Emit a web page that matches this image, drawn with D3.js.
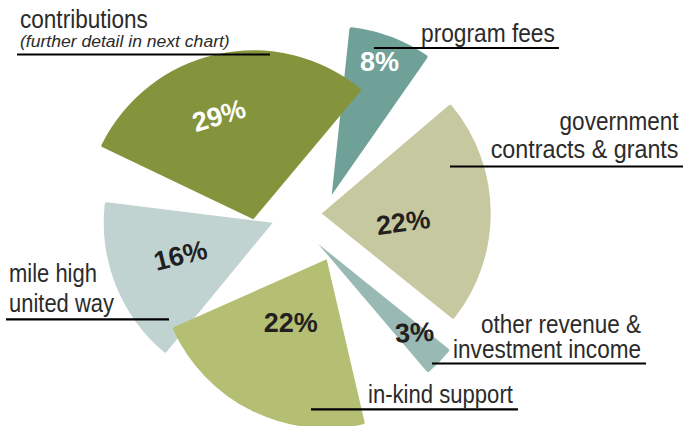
<!DOCTYPE html>
<html>
<head>
<meta charset="utf-8">
<script src="https://cdn.jsdelivr.net/npm/d3@7"></script>
<style>
  html, body { margin: 0; padding: 0; background: #ffffff; }
  svg { display: block; }
  .cat { font-family: "Liberation Sans", Arial, sans-serif; font-size: 25px; fill: #2b2b2b; }
  .sub { font-family: "Liberation Sans", Arial, sans-serif; font-size: 17px; font-style: italic; fill: #2b2b2b; }
  .pct { font-family: "Liberation Sans", Arial, sans-serif; font-size: 27px; font-weight: bold; }
</style>
</head>
<body>
<svg id="chart" width="683" height="426"></svg>
<script>
// ---- data ----
const categories = ["program fees", "government contracts & grants", "other revenue & investment income",
                    "in-kind support", "mile high united way", "contributions"];
const values = [8, 22, 3, 22, 16, 29];
const pctLabels = ["8%", "22%", "3%", "22%", "16%", "29%"];
const colors = ["#6fa198", "#c6c9a0", "#99bab4", "#b4bf74", "#c1d3d0", "#84943c"];
const pctColors = ["#ffffff", "#231f20", "#231f20", "#231f20", "#231f20", "#ffffff"];

// ---- layout (exploded, individually rotated slices) ----
const rotations = [6.1, 20.8, 20.8, 48.1, 21.4, 39.95];            // degrees
const offsets = [[31.7, -35], [21.7, -16.5], [18.3, 14], [26.7, 29.3], [-27.3, -7.3], [-46.7, -10.7]];
const labelRadius = [141, 82, 131, 73, 98, 109];
const labelShift = [-0.7, 7.1, -1.5, 3.1, 2.1, -6.1];              // degrees
const labelRotate = [0, -8, -3, 0, -14, -17];
const drawOrder = [0, 1, 2, 4, 3, 5];

const catLines = [
  {lines: ["program fees"], w: [134], x: 421, y: [42], anchor: "start", ul: [374, 559, 48]},
  {lines: ["government", "contracts & grants"], w: [119, 188], x: 678.5, y: [130, 158], anchor: "end", ul: [450, 683, 166.5]},
  {lines: ["other revenue &", "investment income"], w: [160, 188], x: 641, y: [332.5, 358], anchor: "end", ul: [432, 646, 363.5]},
  {lines: ["in-kind support"], w: [145], x: 368, y: [402.5], anchor: "start", ul: [311, 518, 409.3]},
  {lines: ["mile high", "united way"], w: [88, 105], x: 9, y: [281.5, 311.5], anchor: "start", ul: [6, 169, 319.3]},
  {lines: ["contributions"], w: [128], x: 20, y: [28], anchor: "start", ul: [17, 270, 54.5],
   sub: "(further detail in next chart)", subW: 210, subY: 46.5}
];

const cx = 300, cy = 230, R = 169;
const rad = d => d * Math.PI / 180;

const svg = d3.select("#chart");
const pie = d3.pie().sort(null).startAngle(0).endAngle(2 * Math.PI);
const arcs = pie(values);
const arc = d3.arc().innerRadius(0).outerRadius(R).cornerRadius(2);

const slices = arcs.map((a, i) => ({
  i,
  startAngle: a.startAngle + rad(rotations[i]),
  endAngle: a.endAngle + rad(rotations[i]),
  x: cx + offsets[i][0],
  y: cy + offsets[i][1]
}));

const g = svg.append("g");
g.selectAll("path")
  .data(drawOrder.map(k => slices[k]))
  .join("path")
  .attr("transform", d => `translate(${d.x},${d.y})`)
  .attr("d", d => arc(d))
  .attr("fill", d => colors[d.i]);

// percentage labels
g.selectAll("text.pct")
  .data(slices)
  .join("text")
  .attr("class", "pct")
  .attr("text-anchor", "middle")
  .attr("dominant-baseline", "central")
  .attr("fill", d => pctColors[d.i])
  .attr("transform", d => {
    const m = (d.startAngle + d.endAngle) / 2 + rad(labelShift[d.i]);
    const r = labelRadius[d.i];
    const px = d.x + r * Math.sin(m), py = d.y - r * Math.cos(m);
    return `translate(${px},${py}) rotate(${labelRotate[d.i]})`;
  })
  .text(d => pctLabels[d.i]);

// condensed text: scale horizontally so the line has the measured width
function condensedText(cls, str, x, y, w, anchor) {
  const t = svg.append("text").attr("class", cls)
    .attr("text-anchor", anchor).attr("x", 0).attr("y", 0).text(str);
  const nat = t.node().getComputedTextLength();
  const s = nat > 0 ? w / nat : 1;
  t.attr("transform", `translate(${x},${y}) scale(${s},1)`);
}

// category labels with underlines
catLines.forEach((c) => {
  c.lines.forEach((ln, j) => condensedText("cat", ln, c.x, c.y[j], c.w[j], c.anchor));
  if (c.sub) condensedText("sub", c.sub, c.x, c.subY, c.subW, "start");
  svg.append("line")
    .attr("x1", c.ul[0]).attr("x2", c.ul[1])
    .attr("y1", c.ul[2]).attr("y2", c.ul[2])
    .attr("stroke", "#000").attr("stroke-width", 2.2);
});
</script>
</body>
</html>
